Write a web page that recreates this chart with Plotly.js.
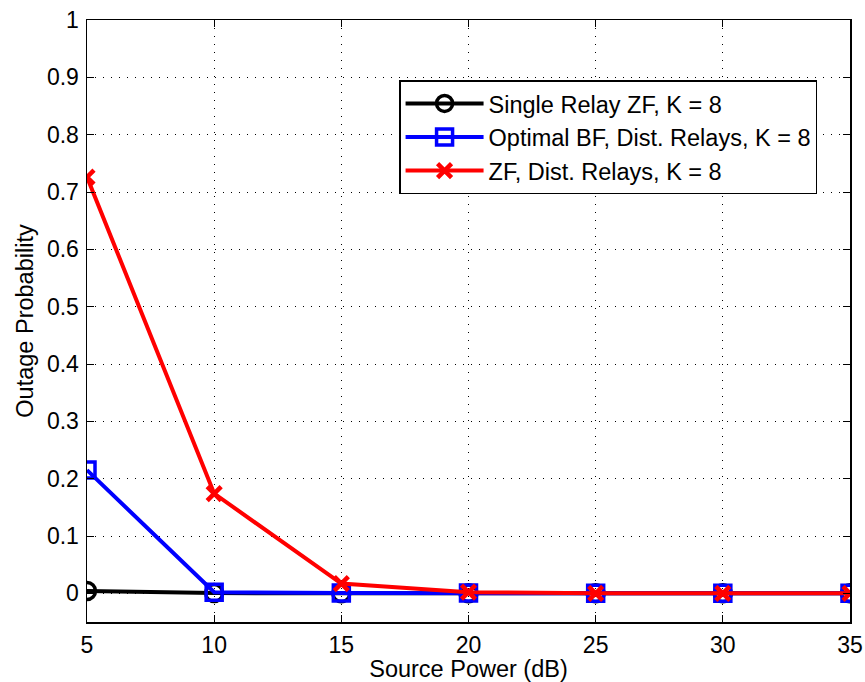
<!DOCTYPE html>
<html>
<head>
<meta charset="utf-8">
<script src="https://cdn.plot.ly/plotly-3.0.1.min.js"></script>
<style>
html,body{margin:0;padding:0;background:#fff;}
#chart{width:865px;height:682px;}
</style>
</head>
<body>
<div id="chart"></div>
<script>
const sourcePower = [5, 10, 15, 20, 25, 30, 35];
const singleRelayZF = [0.004, 0.0005, 0, 0, 0, 0, 0];
const optimalBF = [0.215, 0.002, 0.0005, 0.0005, 0, 0, 0];
const zfDistRelays = [0.726, 0.174, 0.017, 0.002, 0, 0, 0];
const seriesNames = ['Single Relay ZF, K = 8', 'Optimal BF, Dist. Relays, K = 8', 'ZF, Dist. Relays, K = 8'];
const yTickVals = [0, 0.1, 0.2, 0.3, 0.4, 0.5, 0.6, 0.7, 0.8, 0.9, 1];
const yTickText = ['0', '0.1', '0.2', '0.3', '0.4', '0.5', '0.6', '0.7', '0.8', '0.9', '1'];
const xTickVals = [5, 10, 15, 20, 25, 30, 35];

const fam = 'Liberation Sans, Arial, Helvetica, sans-serif';
const tickFont = {family: fam, size: 23, color: '#000'};
const titleFont = {family: fam, size: 23.5, color: '#000'};

const traces = [
  {x: sourcePower, y: singleRelayZF, name: seriesNames[0], mode: 'lines+markers',
   line: {color: '#000000', width: 4},
   marker: {symbol: 'circle-open', size: 17, color: '#000000', line: {width: 3.5, color: '#000000'}}},
  {x: sourcePower, y: optimalBF, name: seriesNames[1], mode: 'lines+markers',
   line: {color: '#0000ff', width: 4},
   marker: {symbol: 'square-open', size: 16, color: '#0000ff', line: {width: 3.5, color: '#0000ff'}}},
  {x: sourcePower, y: zfDistRelays, name: seriesNames[2], mode: 'lines+markers',
   line: {color: '#ff0000', width: 4},
   marker: {symbol: 'x-thin-open', size: 14, color: '#ff0000', line: {width: 4.5, color: '#ff0000'}}}
];

const layout = {
  width: 865, height: 682,
  margin: {l: 87, r: 15, t: 20, b: 60},
  paper_bgcolor: '#ffffff', plot_bgcolor: '#ffffff',
  font: tickFont,
  showlegend: true,
  legend: {x: 0.409, y: 0.9, xanchor: 'left', yanchor: 'top',
    bgcolor: '#ffffff', bordercolor: '#000000', borderwidth: 1.5,
    font: {family: fam, size: 23.5, color: '#000'}, tracegroupgap: 0, itemwidth: 78},
  xaxis: {
    range: [5, 35], tickvals: xTickVals, ticktext: xTickVals.map(String),
    showgrid: true, gridcolor: '#000', griddash: '1px,7px', gridwidth: 1,
    showline: true, linecolor: '#000', linewidth: 1.5, mirror: 'ticks',
    ticks: 'inside', ticklen: 7, tickcolor: '#000', tickwidth: 1,
    zeroline: false, ticklabelstandoff: 2,
    tickfont: tickFont,
    title: {text: 'Source Power (dB)', font: titleFont, standoff: 4}
  },
  yaxis: {
    range: [-0.05, 1], tickvals: yTickVals, ticktext: yTickText,
    showgrid: true, gridcolor: '#000', griddash: '1px,7px', gridwidth: 1,
    showline: true, linecolor: '#000', linewidth: 1.5, mirror: 'ticks',
    ticks: 'inside', ticklen: 7, tickcolor: '#000', tickwidth: 1,
    zeroline: false, ticklabelstandoff: 2,
    tickfont: tickFont,
    title: {text: 'Outage Probability', font: titleFont, standoff: 6}
  }
};

Plotly.newPlot('chart', traces, layout, {displayModeBar: false, staticPlot: true});
</script>
</body>
</html>
